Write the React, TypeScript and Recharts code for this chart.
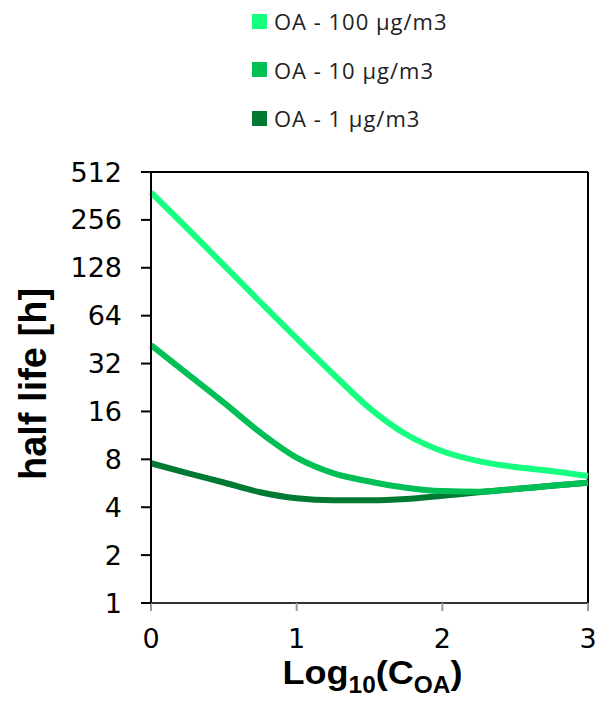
import { LineChart, Line, XAxis, YAxis, ReferenceLine, Legend } from "recharts";

const xValues = [0, 0.25, 0.5, 0.75, 1, 1.25, 1.5, 1.75, 2, 2.25, 2.5, 2.75, 3];
const oa100 = [381, 226, 133, 78, 46, 27.5, 16.8, 11.5, 9.0, 7.8, 7.16, 6.76, 6.28];
const oa10 = [41.8, 27.6, 18.2, 11.8, 8.2, 6.55, 5.8, 5.3, 5.05, 5.0, 5.2, 5.45, 5.7];
const oa1 = [7.56, 6.55, 5.72, 4.97, 4.55, 4.42, 4.42, 4.5, 4.72, 4.97, 5.2, 5.45, 5.7];
const yTicks = [1, 2, 4, 8, 16, 32, 64, 128, 256, 512];
const xTicks = [0, 1, 2, 3];

const legendOrder = ["oa100", "oa10", "oa1"];

const data = xValues.map((x, i) => ({ x, oa100: oa100[i], oa10: oa10[i], oa1: oa1[i] }));

const tickFont = { fontFamily: "DejaVu Sans", fontSize: 27, fill: "#000" };

function LegendBox({ payload }: any) {
  const items = [...(payload || [])].sort(
    (a: any, b: any) => legendOrder.indexOf(a.dataKey) - legendOrder.indexOf(b.dataKey)
  );
  return (
    <div style={{ fontFamily: "Open Sans", fontSize: 22, color: "#222" }}>
      {items.map((p: any) => (
        <div key={p.dataKey} style={{ display: "flex", alignItems: "center", height: 48.5 }}>
          <div style={{ width: 15, height: 15, background: p.color, marginRight: 7 }} />
          <span style={{ letterSpacing: 1 }}>{p.value}</span>
        </div>
      ))}
    </div>
  );
}

function YTitle() {
  const cx = 46;
  const cy = 384;
  return (
    <text
      x={cx}
      y={cy}
      transform={`rotate(-90, ${cx}, ${cy})`}
      textAnchor="middle"
      style={{ fontFamily: "Liberation Sans", fontWeight: "bold", fontSize: 38, fill: "#000" }}
    >
      half life [h]
    </text>
  );
}

function XTitle({ viewBox }: any) {
  const left = viewBox.x + viewBox.width / 2 + 3 - 90;
  return (
    <text
      x={left}
      y={684}
      textLength={180}
      lengthAdjust="spacingAndGlyphs"
      style={{ fontFamily: "Liberation Sans", fontWeight: "bold", fontSize: 34, fill: "#000" }}
    >
      Log
      <tspan fontSize={23} dy={9}>10</tspan>
      <tspan dy={-9}>(C</tspan>
      <tspan fontSize={23} dy={9}>OA</tspan>
      <tspan dy={-9}>)</tspan>
    </text>
  );
}

export default function App() {
  return (
    <div style={{ position: "absolute", left: 0, top: 0, width: 598, height: 703, background: "#fff" }}>
      <LineChart width={598} height={703} data={data} margin={{ top: 172, right: 10, bottom: 0, left: 0 }}>
        <XAxis
          dataKey="x"
          type="number"
          domain={[0, 3]}
          ticks={xTicks}
          height={100}
          axisLine={{ stroke: "#333", strokeWidth: 2 }}
          tickLine={{ stroke: "#999", strokeWidth: 2 }}
          tickSize={8}
          tickMargin={18}
          tick={tickFont}
          label={<XTitle />}
        />
        <YAxis
          scale="log"
          domain={[1, 512]}
          ticks={yTicks}
          allowDataOverflow
          width={151}
          axisLine={{ stroke: "#000", strokeWidth: 2 }}
          tickLine={{ stroke: "#000", strokeWidth: 2 }}
          tickSize={10}
          tickMargin={19}
          tick={tickFont}
          label={<YTitle />}
        />
        <ReferenceLine y={512} stroke="#000" strokeWidth={2} />
        <ReferenceLine x={3} stroke="#000" strokeWidth={2} />
        <Legend
          layout="vertical"
          align="center"
          verticalAlign="middle"
          wrapperStyle={{ top: -3, left: 252, width: "auto" }}
          content={<LegendBox />}
        />
        <Line type="monotone" dataKey="oa100" name="OA - 100 µg/m3" stroke="#17FF80" strokeWidth={6} dot={false} isAnimationActive={false} />
        <Line type="monotone" dataKey="oa1" name="OA - 1 µg/m3" stroke="#007A33" strokeWidth={6} dot={false} isAnimationActive={false} />
        <Line type="monotone" dataKey="oa10" name="OA - 10 µg/m3" stroke="#00BF55" strokeWidth={6} dot={false} isAnimationActive={false} />
      </LineChart>
    </div>
  );
}
